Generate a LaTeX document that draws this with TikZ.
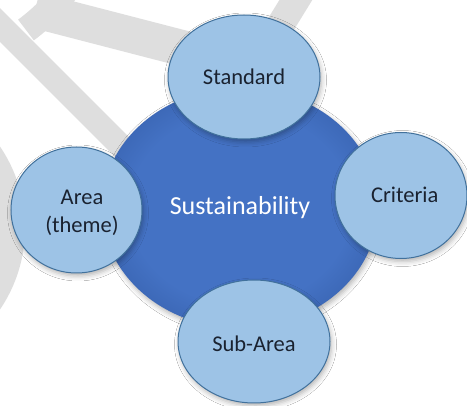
\documentclass[tikz,border=0pt]{standalone}
\usepackage{fontspec}
\setmainfont{Carlito}
\usetikzlibrary{shapes.geometric,shadows.blur}

\definecolor{coreblue}{HTML}{4472C4}
\definecolor{coredark}{HTML}{3D69B8}
\definecolor{bubblefill}{HTML}{9DC3E6}
\definecolor{bubbleedge}{HTML}{41719C}
\definecolor{labelink}{HTML}{1A2230}
\definecolor{wmgray}{HTML}{DEDEDE}

\pgfdeclareradialshading{coreshade}{\pgfpoint{0bp}{0bp}}{color(0bp)=(coreblue);color(20bp)=(coreblue);color(25bp)=(coredark);color(50bp)=(coredark)}

\tikzset{
    bubble/.style={ellipse, draw=bubbleedge, line width=1pt, fill=bubblefill, inner sep=0pt,
        blur shadow={shadow xshift=1.5pt, shadow yshift=-3pt, shadow blur radius=5pt, shadow opacity=30}},
    core/.style={ellipse, shade, shading=coreshade, inner sep=0pt, text=white,
        font=\fontsize{26}{30}\selectfont,
        blur shadow={shadow xshift=1.5pt, shadow yshift=-3pt, shadow blur radius=5pt, shadow opacity=30}},
    bubbletext/.style={text=labelink, font=\fontsize{22.5}{27.7}\selectfont, anchor=base, inner sep=0pt},
    wm/.style={draw=wmgray, line cap=butt}
}

\begin{document}
\begin{tikzpicture}[x=1pt, y=-1pt]
        \useasboundingbox (0,0) rectangle (467,406);
        \fill[white] (0,0) rectangle (467,406);
        \begin{scope}
            \clip (0,0) rectangle (467,406);
            \fill[wmgray] (-120,228) circle (145);
            \draw[wm, line width=24] (-30,-5) -- (135,160);
            \draw[wm, line width=26] (68,-12) .. controls (55,5) and (42,18) .. (26,30);
            \draw[wm, line width=36] (35,10) -- (205,54);
            \draw[wm, line width=28] (302,-10) -- (270,42);
        \end{scope}
        \node[core, minimum width=276pt, minimum height=240pt] (sust) at (240,208) {Sustainability};
        \node[bubble, minimum width=152pt, minimum height=124pt] (std) at (244,77) {};
        \node[bubble, minimum width=131pt, minimum height=126pt] (area) at (76.5,210) {};
        \node[bubble, minimum width=132pt, minimum height=126pt] (crit) at (401,195.5) {};
        \node[bubble, minimum width=152pt, minimum height=123pt] (sub) at (254,341.5) {};
        \node[bubbletext] (stdtxt) at (244,85) {Standard};
        \node[bubbletext, anchor=center, align=center] (areatxt) at (82,213) {Area\\(theme)};
        \node[bubbletext] (crittxt) at (404.7,203) {Criteria};
        \node[bubbletext] (subtxt) at (254,351.7) {Sub-Area};
\end{tikzpicture}
\end{document}
